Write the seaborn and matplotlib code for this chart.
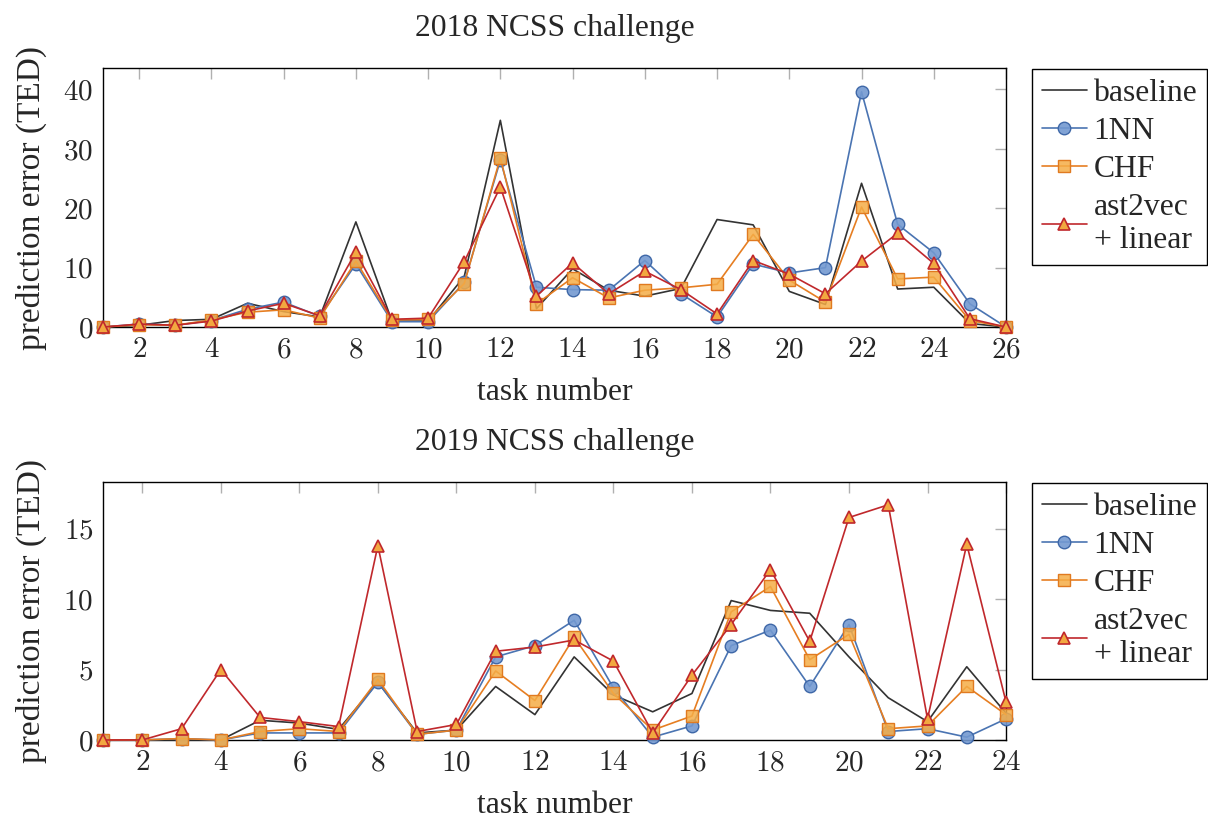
import numpy as np
import pandas as pd
import matplotlib
matplotlib.use("Agg")
import matplotlib.pyplot as plt
import seaborn as sns

sns.set_theme(style="white")
plt.rcParams['font.family'] = ['Liberation Serif', 'DejaVu Serif']
plt.rcParams['axes.formatter.use_mathtext'] = True

# 2018 data (tasks 1..26)
tasks_2018 = list(range(1, 27))
baseline_2018 = [0, 0.3, 1.1, 1.3, 4.0, 2.6, 1.7, 17.7, 1.0, 1.0, 8.5, 34.8, 3.1, 9.8,
                 6.2, 5.2, 6.5, 18.1, 17.2, 6.0, 3.8, 24.2, 6.4, 6.7, 0.6, 0]
nn_2018 = [0, 0.5, 0.3, 1.1, 3.0, 4.2, 1.8, 10.6, 0.9, 0.9, 7.5, 28.1, 6.7, 6.3,
           6.2, 11.2, 5.6, 1.7, 10.6, 9.1, 10.0, 39.6, 17.3, 12.5, 3.9, 0]
chf_2018 = [0, 0.4, 0.3, 1.2, 2.5, 2.9, 1.5, 11.1, 1.2, 1.3, 7.3, 28.5, 3.9, 8.3,
            4.9, 6.2, 6.6, 7.2, 15.6, 7.9, 4.2, 20.2, 8.1, 8.4, 1.1, 0]
ast_2018 = [0, 0.5, 0.3, 1.0, 2.7, 4.0, 1.9, 12.6, 1.3, 1.5, 11.0, 23.6, 5.2, 10.8,
            5.6, 9.4, 6.3, 2.2, 11.2, 8.9, 5.6, 11.1, 15.8, 10.7, 1.4, 0]

# 2019 data (tasks 1..24)
tasks_2019 = list(range(1, 25))
baseline_2019 = [0, 0, 0, 0, 1.4, 1.2, 0.75, 4.1, 0.5, 0.7, 3.8, 1.8, 5.9, 3.2,
                 2.0, 3.3, 9.9, 9.2, 9.0, 5.9, 3.0, 1.3, 5.2, 1.9]
nn_2019 = [0, 0, 0.1, 0, 0.5, 0.5, 0.5, 4.1, 0.4, 0.7, 5.9, 6.7, 8.5, 3.7,
           0.2, 1.0, 6.7, 7.8, 3.8, 8.2, 0.6, 0.8, 0.2, 1.5]
chf_2019 = [0, 0, 0.1, 0, 0.6, 0.8, 0.6, 4.3, 0.4, 0.7, 4.9, 2.8, 7.3, 3.3,
            0.7, 1.7, 9.1, 10.9, 5.7, 7.5, 0.8, 1.0, 3.8, 1.8]
ast_2019 = [0, 0, 0.8, 5.0, 1.6, 1.3, 0.95, 13.8, 0.6, 1.1, 6.3, 6.6, 7.1, 5.6,
            0.5, 4.6, 8.2, 12.1, 7.0, 15.8, 16.7, 1.5, 13.9, 2.7]

labels = ['baseline', '1NN', 'CHF', 'ast2vec\n+ linear']

styles = [
    dict(color='#333333', marker=None),
    dict(color='#4a74b2', marker='o', markersize=9, markerfacecolor=(0.45, 0.6, 0.82, 0.9),
         markeredgecolor='#3f68a8', markeredgewidth=1.0),
    dict(color='#e67e22', marker='s', markersize=9, markerfacecolor=(0.96, 0.68, 0.28, 0.85),
         markeredgecolor='#e07a20', markeredgewidth=1.0),
    dict(color='#c0282c', marker='^', markersize=8.5, markerfacecolor=(0.95, 0.66, 0.25, 1.0),
         markeredgecolor='#c0282c', markeredgewidth=1.2),
]

TXT = 22.8

fig = plt.figure(figsize=(12.08, 8.18), dpi=100)
ax1 = fig.add_axes([0.0853, 0.6002, 0.7475, 0.3166])
ax2 = fig.add_axes([0.0853, 0.0954, 0.7475, 0.3150])


def draw(ax, tasks, series, title, ymax, yticks, xmax, legend_top):
    for vals, lab, st in zip(series, labels, styles):
        df = pd.DataFrame({'task': tasks, 'err': vals})
        sns.lineplot(data=df, x='task', y='err', ax=ax, label=lab, linewidth=1.2,
                     clip_on=False, zorder=3, **st)
    ax.set_xlim(1, xmax)
    ax.set_ylim(0, ymax)
    ax.set_xticks(range(2, xmax + 1, 2))
    ax.set_yticks(yticks)
    ax.set_xlabel('task number', fontsize=TXT, labelpad=11)
    ax.set_ylabel('prediction error (TED)', fontsize=24, labelpad=12)
    ax.set_title(title, fontsize=TXT, pad=23)
    ax.tick_params(direction='in', length=8, width=1, color='#b0b0b0',
                   top=True, right=True, labelsize=21, pad=7)
    for lbl in ax.get_xticklabels() + ax.get_yticklabels():
        lbl.set_fontfamily('cmr10')
    for sp in ax.spines.values():
        sp.set_color('black')
        sp.set_linewidth(1.0)
        sp.set_zorder(2)
    leg = ax.legend(loc='upper left', bbox_to_anchor=(1032 / 1208, legend_top),
                    bbox_transform=fig.transFigure, fontsize=TXT, frameon=True,
                    fancybox=False, framealpha=1, edgecolor='black',
                    handlelength=1.45, handletextpad=0.2, borderpad=0.3,
                    labelspacing=0.28, borderaxespad=0)
    leg.get_frame().set_linewidth(1.0)


draw(ax1, tasks_2018, [baseline_2018, nn_2018, chf_2018, ast_2018],
     '2018 NCSS challenge', 43.6, [0, 10, 20, 30, 40], 26, 1 - 69 / 818)
draw(ax2, tasks_2019, [baseline_2019, nn_2019, chf_2019, ast_2019],
     '2019 NCSS challenge', 18.3, [0, 5, 10, 15], 24, 1 - 483 / 818)

fig.savefig('out.png', dpi=100)
